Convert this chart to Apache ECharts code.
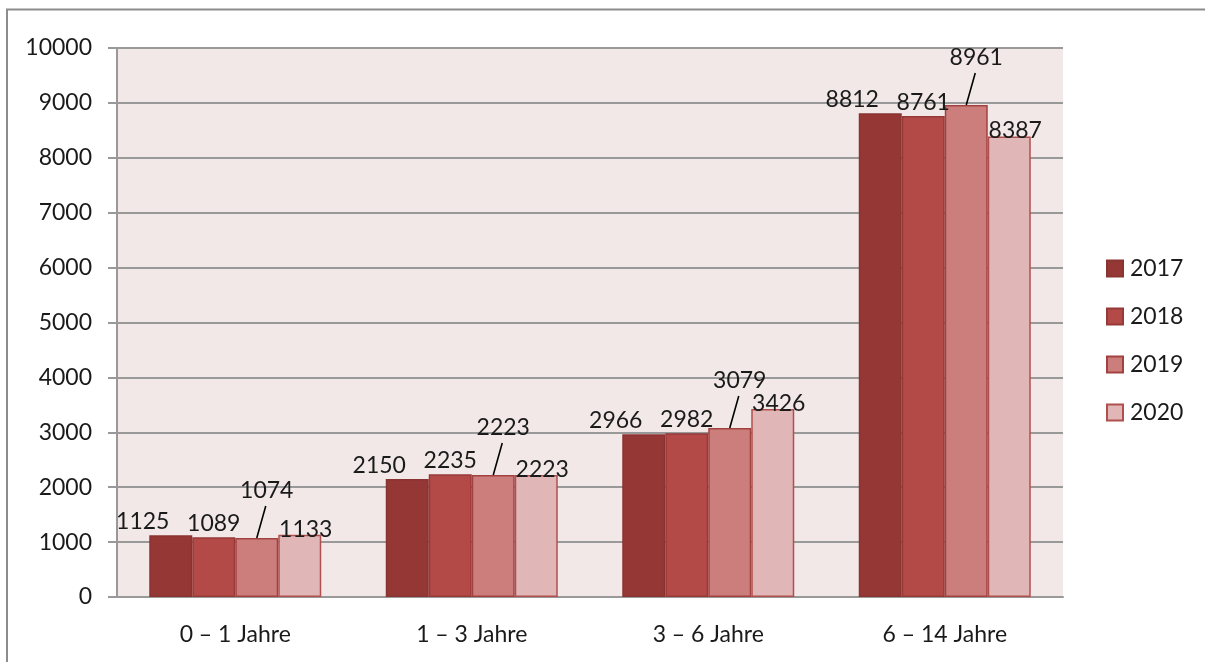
<!DOCTYPE html>
<html>
<head>
<meta charset="utf-8">
<script src="https://cdn.jsdelivr.net/npm/echarts@6/dist/echarts.min.js"></script>
<style>
  html, body { margin: 0; padding: 0; background: #fff; }
  #main { width: 1205px; height: 662px; }
</style>
</head>
<body>
<div id="main"></div>
<script>
// Altersgruppen
var categories = ['0 – 1 Jahre', '1 – 3 Jahre', '3 – 6 Jahre', '6 – 14 Jahre'];
var years = ['2017', '2018', '2019', '2020'];
var data2017 = [1125, 2150, 2966, 8812];
var data2018 = [1089, 2235, 2982, 8761];
var data2019 = [1074, 2223, 3079, 8961];
var data2020 = [1133, 2223, 3426, 8387];
var yTicks = [0, 1000, 2000, 3000, 4000, 5000, 6000, 7000, 8000, 9000, 10000];

var fills = ['#943735', '#b44a48', '#cc7e7c', '#e0b6b7'];
var borders = ['#8a3432', '#963a38', '#a24240', '#b0504e'];
var fontFam = 'Lato, "Noto Sans", sans-serif';
var fontSize = 23;
var barW = 43;

function makeSeries(name, values, i) {
    var s = {
        name: name,
        type: 'bar',
        data: values,
        barWidth: barW,
        barGap: '0%',
        itemStyle: {
            color: fills[i],
            borderColor: borders[i],
            borderWidth: 1.5
        },
        label: {
            show: true,
            position: 'top',
            distance: 2,
            color: '#1a1a1a',
            fontFamily: fontFam,
            fontSize: fontSize
        }
    };
    if (i === 0) {
        s.label.offset = [-28, 0];
    }
    if (i === 2) {
        // 2019: Beschriftung nach oben rechts versetzt
        s.labelLayout = { dx: 10, dy: -34 };
    }
    if (i === 3) {
        s.label.offset = [6, 8];
    }
    return s;
}

// Führungslinien für die 2019-Beschriftungen
var leaderSeries = {
    type: 'custom',
    name: 'leader',
    silent: true,
    z: 5,
    data: data2019.map(function (v, idx) { return [idx, v]; }),
    renderItem: function (params, api) {
        var p = api.coord([api.value(0), api.value(1)]);
        var cx = p[0] + barW / 2;   // dritter Balken der Gruppe
        var top = p[1];
        return {
            type: 'line',
            shape: { x1: cx, y1: top, x2: cx + 9, y2: top - 32 },
            style: { stroke: '#000', lineWidth: 1.6 }
        };
    }
};

var dom = document.getElementById('main');
var myChart = echarts.init(dom);
myChart.setOption({
    animation: false,
    backgroundColor: '#ffffff',
    textStyle: { fontFamily: fontFam },
    graphic: [{
        type: 'polyline',
        shape: { points: [[7, 700], [7, 9.5], [1205, 9.5]] },
        style: { stroke: '#8c8c8c', lineWidth: 2, fill: null }
    }],
    grid: {
        left: 117,
        right: 142,
        top: 48,
        bottom: 65,
        show: true,
        backgroundColor: '#f2e8e8',
        borderWidth: 0
    },
    legend: {
        orient: 'vertical',
        left: 1101,
        top: 252,
        itemWidth: 16,
        itemHeight: 16,
        itemGap: 25,
        icon: 'rect',
        data: years,
        textStyle: { color: '#1a1a1a', fontSize: fontSize, fontFamily: fontFam, padding: [0, 0, 0, 2] }
    },
    xAxis: {
        type: 'category',
        data: categories,
        axisLine: { show: true, lineStyle: { color: '#999', width: 2 } },
        axisTick: { show: false },
        axisLabel: { color: '#1a1a1a', fontSize: fontSize, margin: 26, fontFamily: fontFam }
    },
    yAxis: {
        type: 'value',
        min: yTicks[0],
        max: yTicks[yTicks.length - 1],
        interval: 1000,
        axisLine: { show: true, lineStyle: { color: '#999', width: 2 } },
        axisTick: { show: true, length: 9, lineStyle: { color: '#999', width: 2 } },
        splitLine: { show: true, lineStyle: { color: '#999', width: 2 } },
        axisLabel: {
            color: '#1a1a1a',
            fontSize: fontSize,
            margin: 25,
            fontFamily: fontFam,
            formatter: function (v) { return String(v); }
        }
    },
    series: [
        makeSeries(years[0], data2017, 0),
        makeSeries(years[1], data2018, 1),
        makeSeries(years[2], data2019, 2),
        makeSeries(years[3], data2020, 3),
        leaderSeries
    ]
});
window.addEventListener('resize', function () {
    myChart.resize();
});
</script>
</body>
</html>
